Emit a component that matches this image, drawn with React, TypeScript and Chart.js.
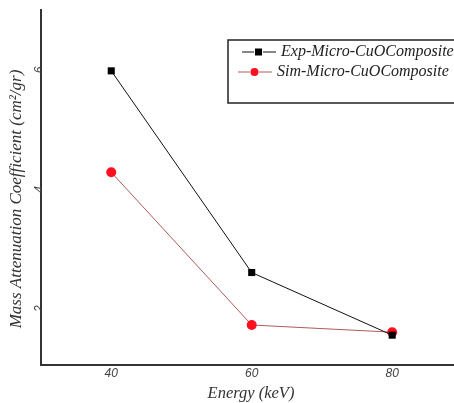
import React, { useEffect, useRef } from "react";
import { Chart, registerables } from "chart.js";

Chart.register(...registerables);

const energies = [40, 60, 80];
const expValues = [5.93, 2.55, 1.5];
const simValues = [4.23, 1.67, 1.55];
const yTicks = [2, 4, 6];
const xTicks = [40, 60, 80];
const expLabel = "Exp-Micro-CuOComposite";
const simLabel = "Sim-Micro-CuOComposite";
const xTitle = "Energy (keV)";
const yTitle = "Mass Attenuation Coefficient (cm\u00B2/gr)";

const legendPlugin = {
  id: "boxLegend",
  afterDraw(chart: any) {
    const ctx = chart.ctx;
    const left = 228, top = 40, bottom = 103;
    ctx.save();
    ctx.strokeStyle = "#222";
    ctx.lineWidth = 1.5;
    ctx.beginPath();
    ctx.moveTo(chart.width + 2, top);
    ctx.lineTo(left, top);
    ctx.lineTo(left, bottom);
    ctx.lineTo(chart.width + 2, bottom);
    ctx.stroke();
    const items = [
      { label: expLabel, line: "#111", fill: "#000", style: "rect", y: 52, x0: 242, tx: 281 },
      { label: simLabel, line: "#b05a5a", fill: "#ff1020", style: "circle", y: 72, x0: 238, tx: 277 },
    ];
    ctx.font = "italic 16px 'Liberation Serif', serif";
    ctx.textBaseline = "middle";
    ctx.textAlign = "left";
    for (const it of items) {
      ctx.strokeStyle = it.line;
      ctx.lineWidth = 1;
      ctx.beginPath();
      ctx.moveTo(it.x0, it.y);
      ctx.lineTo(it.x0 + 12, it.y);
      ctx.moveTo(it.x0 + 21, it.y);
      ctx.lineTo(it.x0 + 34, it.y);
      ctx.stroke();
      ctx.fillStyle = it.fill;
      const cx = it.x0 + 16.5;
      if (it.style === "rect") {
        ctx.fillRect(cx - 3.5, it.y - 3.5, 7, 7);
      } else {
        ctx.beginPath();
        ctx.arc(cx, it.y, 4, 0, Math.PI * 2);
        ctx.fill();
      }
      ctx.fillStyle = "#222";
      ctx.fillText(it.label, it.tx, it.y);
    }
    // axis titles
    ctx.fillStyle = "#333";
    ctx.textAlign = "center";
    ctx.textBaseline = "middle";
    ctx.font = "italic 16.5px 'Liberation Serif', serif";
    ctx.fillText(xTitle, 251, 394);
    ctx.translate(17, 199);
    ctx.rotate(-Math.PI / 2);
    ctx.font = "italic 17px 'Liberation Serif', serif";
    ctx.fillText(yTitle, 0, 0);
    ctx.restore();
  },
};

export default function App() {
  const ref = useRef<HTMLCanvasElement>(null);
  useEffect(() => {
    document.body.style.margin = "0";
    const chart = new Chart(ref.current!, {
      type: "line",
      data: {
        datasets: [
          {
            label: expLabel,
            data: energies.map((x, i) => ({ x, y: expValues[i] })),
            borderColor: "#111",
            borderWidth: 1,
            backgroundColor: "#000",
            pointStyle: "rect",
            pointRadius: 5,
            pointBorderWidth: 0,
            pointBackgroundColor: "#000",
          },
          {
            label: simLabel,
            data: energies.map((x, i) => ({ x, y: simValues[i] })),
            borderColor: "#b05a5a",
            borderWidth: 1,
            backgroundColor: "#ff1020",
            pointStyle: "circle",
            pointRadius: 5,
            pointBorderWidth: 0,
            pointBackgroundColor: "#ff1020",
          },
        ],
      },
      options: {
        animation: false,
        responsive: false,
        layout: { autoPadding: false, padding: { top: 10, right: 0, left: 0, bottom: 0 } },
        plugins: { legend: { display: false }, tooltip: { enabled: false } },
        scales: {
          x: {
            type: "linear",
            min: 30,
            max: 88.8,
            afterBuildTicks: (axis: any) => {
              axis.ticks = xTicks.map((v) => ({ value: v }));
            },
            afterFit: (axis: any) => {
              axis.height = 38;
              axis.paddingLeft = 0;
              axis.paddingRight = 0;
            },
            grid: { display: false, drawTicks: false },
            border: { display: true, color: "#333", width: 2 },
            ticks: {
              padding: 1,
              color: "#444",
              font: { family: "'Liberation Sans', sans-serif", size: 12, style: "italic" },
            },
            title: { display: false },
          },
          y: {
            type: "linear",
            min: 1,
            max: 6.95,
            afterBuildTicks: (axis: any) => {
              axis.ticks = yTicks.map((v) => ({ value: v }));
            },
            afterFit: (axis: any) => {
              axis.width = 41;
              axis.paddingTop = 0;
              axis.paddingBottom = 0;
            },
            grid: { display: false, drawTicks: false },
            border: { display: true, color: "#333", width: 2 },
            ticks: {
              padding: 1,
              minRotation: 90,
              maxRotation: 90,
              color: "#444",
              font: { family: "'Liberation Sans', sans-serif", size: 12, style: "italic" },
            },
            title: { display: false },
          },
        },
      },
      plugins: [legendPlugin],
    });
    return () => chart.destroy();
  }, []);
  return <canvas ref={ref} width={454} height={403} style={{ display: "block" }} />;
}
